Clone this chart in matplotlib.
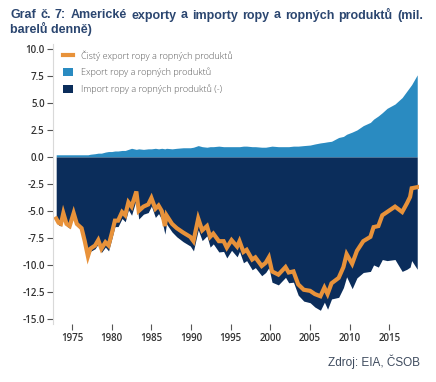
import matplotlib.pyplot as plt

# casove body (rok) a hodnoty, mil. barelu denne
years = [1973.0, 1973.3, 1973.6, 1973.9, 1974.3, 1974.7, 1975.2, 1975.6, 1976.2, 1976.6,
         1977.0, 1977.3, 1977.9, 1978.3, 1978.7, 1979.2, 1979.6, 1980.0, 1980.4, 1980.8,
         1981.3, 1981.7, 1982.1, 1982.5, 1983.1, 1983.4, 1984.0, 1984.6, 1985.0, 1985.5,
         1985.9, 1986.3, 1986.7, 1986.9, 1987.6, 1988.2, 1989.0, 1989.9, 1990.3, 1990.9,
         1991.4, 1992.0, 1992.4, 1992.8, 1993.5, 1994.1, 1994.5, 1995.1, 1995.8, 1996.1,
         1996.6, 1997.0, 1997.7, 1998.1, 1998.9, 1999.4, 1999.8, 2000.2, 2001.0, 2001.9,
         2002.3, 2002.9, 2003.5, 2004.2, 2005.0, 2005.6, 2006.3, 2006.8, 2007.2, 2007.7,
         2008.6, 2009.2, 2009.6, 2010.3, 2010.9, 2011.7, 2012.6, 2013.0, 2013.6, 2014.1,
         2014.7, 2015.7, 2016.6, 2017.2, 2017.6, 2017.8, 2018.5]

net_export = [-5.7, -6.1, -6.2, -5.2, -6.2, -6.4, -5.2, -6.2, -6.6, -7.8,
              -9.2, -8.5, -8.2, -7.7, -8.5, -7.9, -8.2, -7.1, -5.9, -5.9,
              -5.1, -5.4, -4.2, -4.6, -3.2, -5.0, -4.6, -4.4, -3.8, -4.8,
              -4.5, -5.0, -6.4, -5.4, -6.2, -6.6, -7.0, -7.4, -7.8, -5.7,
              -6.8, -6.4, -7.4, -7.1, -7.8, -7.8, -8.4, -7.7, -8.3, -7.8,
              -8.8, -8.6, -9.5, -9.3, -10.1, -9.8, -9.3, -10.6, -10.9, -10.2,
              -10.7, -10.6, -11.8, -12.3, -12.4, -12.7, -12.9, -12.1, -12.7, -11.7,
              -11.2, -10.2, -9.0, -9.9, -8.7, -7.8, -7.4, -6.5, -6.4, -5.4,
              -5.1, -4.6, -5.1, -4.3, -3.7, -2.9, -2.8]

exports = [0.2, 0.2, 0.2, 0.2, 0.2, 0.2, 0.2, 0.2, 0.2, 0.2,
           0.2, 0.25, 0.3, 0.35, 0.35, 0.45, 0.5, 0.5, 0.55, 0.55,
           0.6, 0.6, 0.7, 0.8, 0.7, 0.75, 0.7, 0.75, 0.75, 0.8,
           0.75, 0.8, 0.75, 0.8, 0.75, 0.8, 0.85, 0.85, 0.9, 1.05,
           0.95, 0.9, 0.95, 0.95, 1.0, 0.95, 0.95, 0.95, 0.95, 0.95,
           1.0, 1.0, 0.95, 0.95, 0.9, 0.9, 0.95, 1.0, 0.95, 0.95,
           0.95, 1.0, 1.0, 1.05, 1.1, 1.2, 1.3, 1.35, 1.4, 1.45,
           1.8, 1.9, 2.1, 2.3, 2.5, 2.9, 3.2, 3.5, 3.8, 4.1,
           4.5, 4.9, 5.5, 6.1, 6.5, 6.7, 7.6]

imports = [-5.9, -6.3, -6.4, -5.4, -6.4, -6.6, -5.4, -6.4, -6.8, -8.0,
           -9.4, -8.75, -8.5, -8.05, -8.85, -8.35, -8.7, -7.6, -6.45, -6.45,
           -5.7, -6.0, -4.9, -5.4, -3.9, -5.75, -5.3, -5.15, -4.55, -5.6,
           -5.25, -5.8, -7.15, -6.2, -6.95, -7.4, -7.85, -8.25, -8.7, -6.75,
           -7.75, -7.3, -8.35, -8.05, -8.8, -8.75, -9.35, -8.65, -9.25, -8.75,
           -9.8, -9.6, -10.45, -10.25, -11.0, -10.7, -10.25, -11.6, -11.85, -11.15,
           -11.65, -11.6, -12.8, -13.35, -13.5, -13.9, -14.2, -13.45, -14.1, -13.15,
           -13.0, -12.1, -11.1, -12.2, -11.2, -10.7, -10.6, -10.0, -10.2, -9.5,
           -9.6, -9.5, -10.6, -10.4, -10.2, -9.6, -10.4]

labels = ["Čistý export ropy a ropných produktů",
          "Export ropy a ropných produktů",
          "Import ropy a ropných produktů (-)"]
yticks = [10.0, 7.5, 5.0, 2.5, 0.0, -2.5, -5.0, -7.5, -10.0, -12.5, -15.0]
xticks = [1975, 1980, 1985, 1990, 1995, 2000, 2005, 2010, 2015]
title1 = "Graf č. 7: Americké exporty a importy ropy a ropných produktů (mil."
title2 = "barelů denně)"

c_exp = '#2A8BC1'
c_imp = '#0B2D5B'
c_net = '#E8923A'
c_tick = '#333333'
c_title = '#2B4670'

W, H = 436, 382
fig = plt.figure(figsize=(W / 100, H / 100), dpi=100)
ax = fig.add_axes([0.1216, 0.151, 0.839, 0.735])

ax.fill_between(years, 0, exports, color=c_exp, lw=0, label=labels[1])
ax.fill_between(years, imports, 0, color=c_imp, lw=0, label=labels[2])
ax.plot(years, net_export, color=c_net, lw=3, solid_joinstyle='miter', label=labels[0])

ax.set_xlim(1972.6, 2018.7)
ax.set_ylim(-15.5, 10.5)
ax.set_yticks(yticks)
ax.set_yticklabels([f"{v:.1f}" for v in yticks])
ax.set_xticks(xticks)

for s in ['top', 'right', 'bottom']:
    ax.spines[s].set_visible(False)
ax.spines['left'].set_color('#D9D9D9')
ax.spines['left'].set_linewidth(0.8)
ax.tick_params(axis='both', length=4, width=0.8, color='#555555', pad=2,
               labelsize=7, labelcolor=c_tick)
for t in ax.get_yticklabels() + ax.get_xticklabels():
    t.set_fontfamily('Open Sans')
    t.set_fontweight('semibold')

h, l = ax.get_legend_handles_labels()
order = [2, 0, 1]
leg = ax.legend([h[i] for i in order], [l[i] for i in order], loc='upper left',
                bbox_to_anchor=(0.005, 1.005), frameon=False,
                prop={'family': 'Open Sans', 'size': 6.6, 'weight': 'light'},
                handlelength=1.1, handleheight=1.0, handletextpad=0.8, labelspacing=0.75)
for t in leg.get_texts():
    t.set_color('#5A5A5A')

# nadpis do bloku (prvni radek zarovnany na sirku)
tkw = dict(fontsize=9, fontweight='bold', color=c_title, family='Liberation Sans',
           va='baseline')
words = title1.split(' ')
parts = [fig.text(0, 0, w, **tkw) for w in words]
r = fig.canvas.get_renderer()
widths = [p.get_window_extent(r).width for p in parts]
x0, x1 = 10, 423
gap = (x1 - x0 - sum(widths)) / (len(words) - 1)
x = x0
for p, w in zip(parts, widths):
    p.set_position((x / W, 1 - 18.5 / H))
    x += w + gap
fig.text(x0 / W, 1 - 33.5 / H, title2, **tkw)

fig.text(0.963, 0.035, "Zdroj: EIA, ČSOB", fontsize=8.5, color='#3E4B5E',
         family='Liberation Sans', ha='right', va='bottom')

fig.savefig('out.png', dpi=100)
